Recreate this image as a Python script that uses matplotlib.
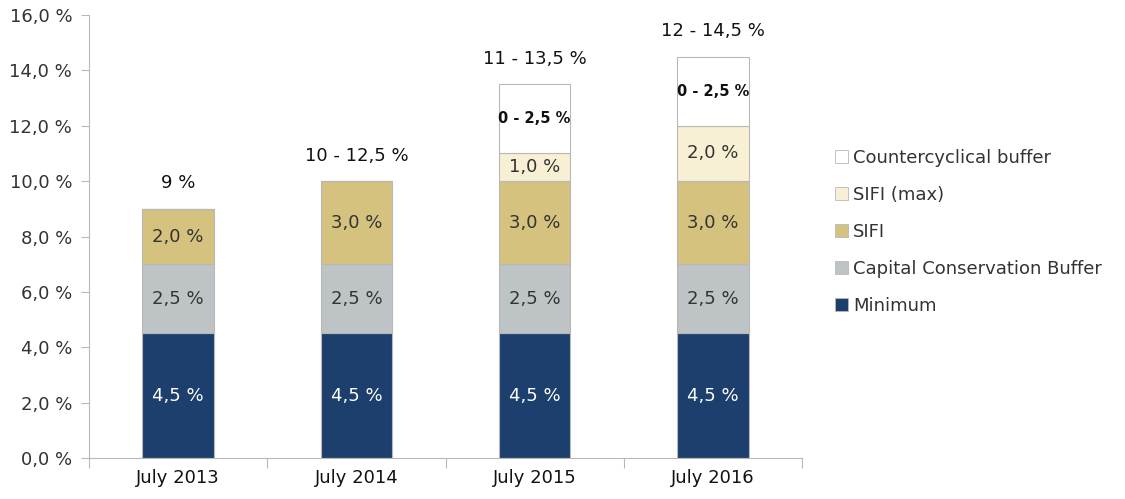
import numpy as np
import matplotlib
matplotlib.use('Agg')
import matplotlib.pyplot as plt
from matplotlib.patches import Patch

years = ['July 2013', 'July 2014', 'July 2015', 'July 2016']
minimum = [4.5, 4.5, 4.5, 4.5]
conservation = [2.5, 2.5, 2.5, 2.5]
sifi = [2.0, 3.0, 3.0, 3.0]
sifi_max = [0.0, 0.0, 1.0, 2.0]
countercyclical = [0.0, 0.0, 2.5, 2.5]
range_labels = ['9 %', '10 - 12,5 %', '11 - 13,5 %', '12 - 14,5 %']
ccy_labels = ['', '', '0 - 2,5 %', '0 - 2,5 %']

plt.rcParams['font.family'] = ['DejaVu Sans']
text_col = '#333333'
edge = '#b8b8b8'

series = [
    ('Minimum', minimum, '#1c3f6d'),
    ('Capital Conservation Buffer', conservation, '#bec3c6'),
    ('SIFI', sifi, '#d5c27f'),
    ('SIFI (max)', sifi_max, '#f8f0d4'),
    ('Countercyclical buffer', countercyclical, '#ffffff'),
]

fig = plt.figure(figsize=(11.25, 4.99), dpi=100)
ax = fig.add_axes([0.079, 0.082, 0.634, 0.888])

x = np.arange(len(years))
width = 0.40
bottom = np.zeros(len(years))
for name, vals, col in series:
    vals = np.array(vals)
    ax.bar(x, vals, width, bottom=bottom, color=col, edgecolor=edge, linewidth=0.8)
    for i, v in enumerate(vals):
        if v <= 0:
            continue
        yc = bottom[i] + v / 2
        if name == 'Countercyclical buffer':
            ax.text(x[i], yc, ccy_labels[i], ha='center', va='center',
                    fontsize=10.5, fontweight='bold', color='#111111')
        else:
            lbl = ('%.1f %%' % v).replace('.', ',')
            c = 'white' if name == 'Minimum' else text_col
            ax.text(x[i], yc, lbl, ha='center', va='center', fontsize=13, color=c)
    bottom += vals

for i, lbl in enumerate(range_labels):
    ax.text(x[i], bottom[i] + 0.6, lbl, ha='center', va='bottom',
            fontsize=13, color='#111111')

ax.set_xlim(-0.5, len(years) - 0.5)
ax.set_ylim(0, 16)
ax.set_yticks(np.arange(0, 17, 2))
ax.set_yticklabels([('%.1f %%' % t).replace('.', ',') for t in np.arange(0, 17, 2)],
                   fontsize=13, color=text_col)
ax.set_xticks(x)
ax.set_xticklabels(years, fontsize=13, color='#111111')
ax.set_xticks(np.arange(-0.5, len(years)), minor=True)
ax.tick_params(axis='x', which='major', length=0, pad=8)
ax.tick_params(axis='x', which='minor', length=7, color=edge, width=0.8)
ax.tick_params(axis='y', length=6, color=edge, width=0.8, pad=6)

for s in ['top', 'right']:
    ax.spines[s].set_visible(False)
for s in ['left', 'bottom']:
    ax.spines[s].set_color(edge)
    ax.spines[s].set_linewidth(0.8)

handles = [Patch(facecolor=col, edgecolor=edge, linewidth=0.6, label=name)
           for name, vals, col in series[::-1]]
fig.legend(handles=handles, loc='center left', bbox_to_anchor=(0.728, 0.535),
           frameon=False, fontsize=13, handlelength=0.7, handleheight=0.7,
           handletextpad=0.3, labelspacing=1.05, labelcolor=text_col)

fig.savefig('out.png', dpi=100)
